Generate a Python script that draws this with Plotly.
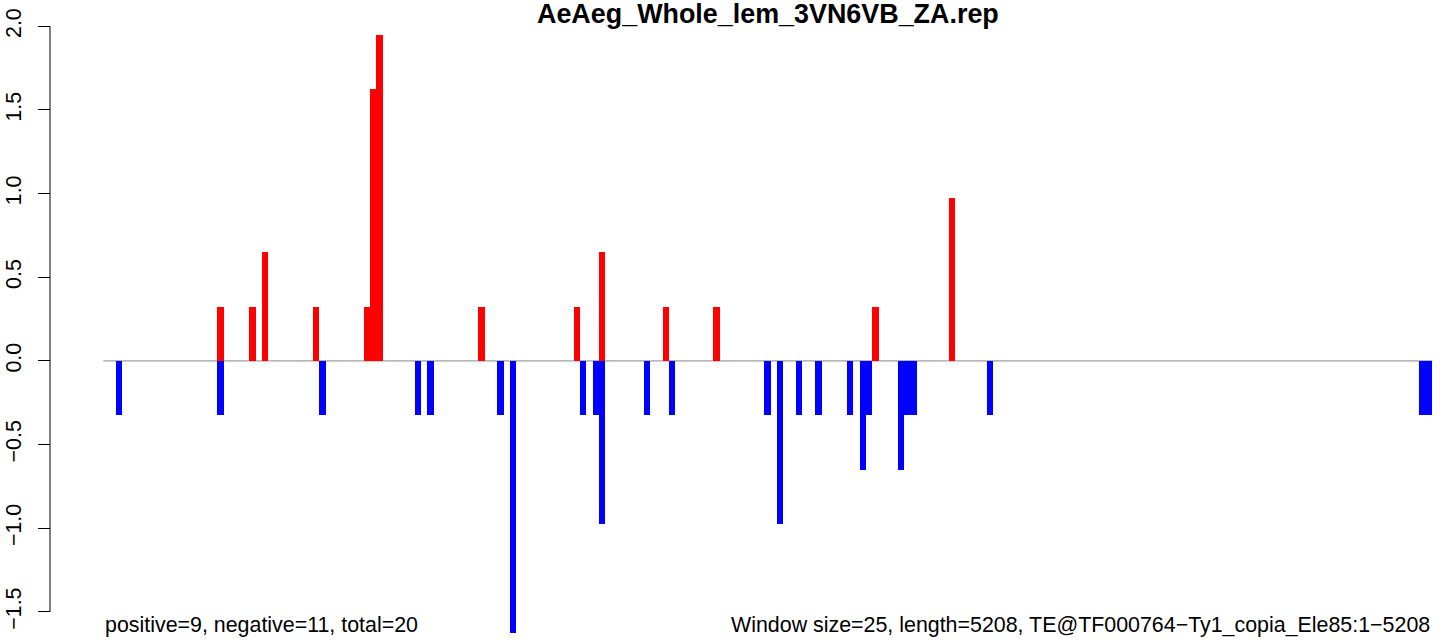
import plotly.graph_objects as go

# ---- data (window index, value) ----
n_windows = 209
pos_windows = [18, 23, 25, 33, 41, 42, 43, 59, 74, 78, 88, 96, 121, 133]
pos_values = [0.325, 0.325, 0.65, 0.325, 0.325, 1.625, 1.95, 0.325, 0.325, 0.65, 0.325, 0.325, 0.325, 0.975]
neg_windows = [2, 18, 34, 49, 51, 62, 64, 75, 77, 78, 85, 89, 104, 106, 109, 112, 117, 119, 120, 125, 126, 127, 139, 207, 208]
neg_values = [-0.325, -0.325, -0.325, -0.325, -0.325, -0.325, -1.625, -0.325, -0.325, -0.975, -0.325, -0.325, -0.325,
              -0.975, -0.325, -0.325, -0.325, -0.65, -0.325, -0.65, -0.325, -0.325, -0.325, -0.325, -0.325]
y_tick_vals = [-1.5, -1.0, -0.5, 0.0, 0.5, 1.0, 1.5, 2.0]
y_tick_text = ["\u22121.5", "\u22121.0", "\u22120.5", "0.0", "0.5", "1.0", "1.5", "2.0"]
title_text = "AeAeg_Whole_lem_3VN6VB_ZA.rep"
left_note = "positive=9, negative=11, total=20"
right_note = "Window size=25, length=5208, TE@TF000764\u2212Ty1_copia_Ele85:1\u22125208"

W, H = 1444, 644
x0_px, x1_px = 103.3, 1432.3
zero_px, px_per_unit = 360.9, 167.3
axis_px = 50

font = "Liberation Sans, Arial, Helvetica, sans-serif"
base_size = 21.4

fig = go.Figure()
fig.add_trace(go.Bar(x=[w + 0.5 for w in pos_windows], y=pos_values, width=1,
                     marker=dict(color="#ff0000", line=dict(width=0)), showlegend=False))
fig.add_trace(go.Bar(x=[w + 0.5 for w in neg_windows], y=neg_values, width=1,
                     marker=dict(color="#0000ff", line=dict(width=0)), showlegend=False))

y_top = zero_px / px_per_unit
y_bot = -(H - zero_px) / px_per_unit

fig.update_layout(
    width=W, height=H,
    margin=dict(l=0, r=0, t=0, b=0),
    paper_bgcolor="white", plot_bgcolor="white",
    barmode="overlay", bargap=0,
    font=dict(family=font, size=base_size, color="black"),
    xaxis=dict(domain=[x0_px / W, x1_px / W], range=[0, n_windows], visible=False),
    yaxis=dict(domain=[0, 1], range=[y_bot, y_top], anchor="free", position=axis_px / W,
               showgrid=False, zeroline=False, showline=False,
               tickmode="array", tickvals=y_tick_vals, ticktext=y_tick_text,
               ticks="outside", ticklen=12, tickwidth=1, tickcolor="black",
               ticklabelstandoff=8,
               tickangle=-90, tickfont=dict(family=font, size=base_size, color="black")),
    shapes=[
        dict(type="line", xref="paper", yref="y", x0=x0_px / W, x1=x1_px / W, y0=0, y1=0,
             line=dict(color="#a0a0a0", width=1.4), layer="below"),
        dict(type="line", xref="paper", yref="y", x0=axis_px / W, x1=axis_px / W, y0=-1.5, y1=2.0,
             line=dict(color="black", width=1)),
    ],
    annotations=[
        dict(text="<b>" + title_text + "</b>", xref="paper", yref="paper",
             x=(x0_px + x1_px) / 2 / W, y=1 + 3 / H, xanchor="center", yanchor="top",
             showarrow=False, font=dict(family=font, size=26.9, color="black")),
        dict(text=left_note, xref="paper", yref="paper", x=x0_px / W, y=1 - 639 / H,
             xanchor="left", yanchor="bottom", showarrow=False,
             font=dict(family=font, size=base_size, color="black")),
        dict(text=right_note, xref="paper", yref="paper", x=x1_px / W, y=1 - 639 / H,
             xanchor="right", yanchor="bottom", showarrow=False,
             font=dict(family=font, size=base_size, color="black")),
    ],
)

fig.write_html("out.html", config={"displayModeBar": False},
               post_script="document.body.style.margin='0px';document.body.style.overflow='hidden';")
